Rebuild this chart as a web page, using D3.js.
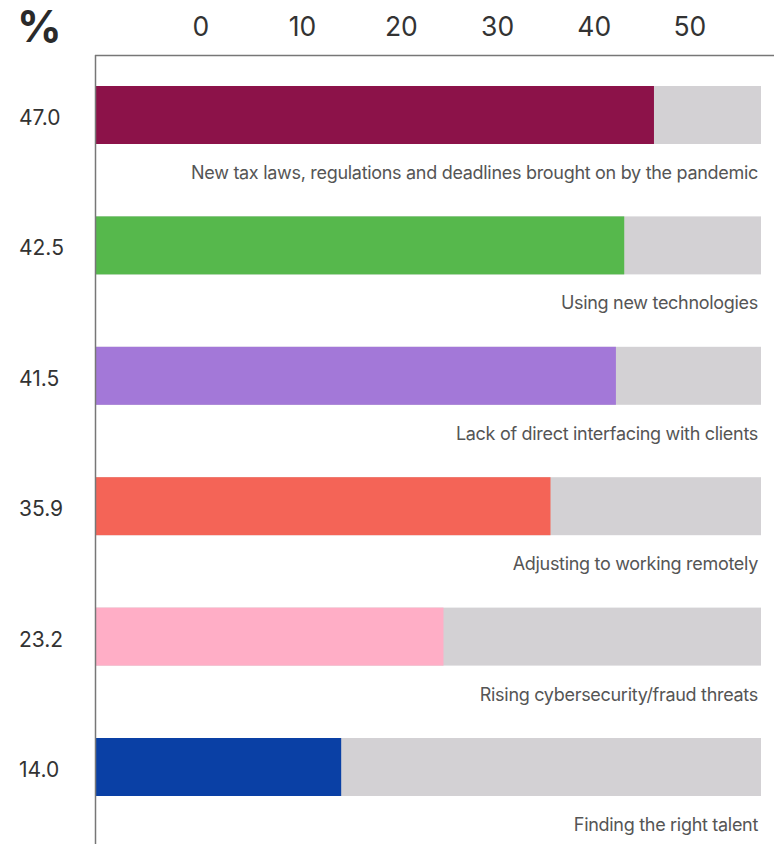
<!DOCTYPE html>
<html>
<head>
<meta charset="utf-8">
<script src="https://cdn.jsdelivr.net/npm/d3@7"></script>
<style>
  html, body { margin: 0; padding: 0; background: #fff; }
  svg { display: block; }
  text { font-family: Inter, "Noto Sans", sans-serif; }
</style>
</head>
<body>
<script>
const categories = [
  "New tax laws, regulations and deadlines brought on by the pandemic",
  "Using new technologies",
  "Lack of direct interfacing with clients",
  "Adjusting to working remotely",
  "Rising cybersecurity/fraud threats",
  "Finding the right talent"
];
const valueLabels = ["47.0", "42.5", "41.5", "35.9", "23.2", "14.0"];
const barLengths = [47.0, 44.5, 43.8, 38.3, 29.3, 20.7];
const colors = ["#8C1249", "#56B84C", "#A378D8", "#F46457", "#FFAEC6", "#0A40A5"];
const tickValues = [0, 10, 20, 30, 40, 50];

const W = 774, H = 844;
const svg = d3.select("body").append("svg").attr("width", W).attr("height", H);

const xBar = d3.scaleLinear().domain([0, 56]).range([95, 761]);
const xTick = d3.scaleLinear().domain([0, 50]).range([192, 673]);
const y = d3.scaleBand().domain(d3.range(categories.length)).range([86, 86 + 130.4 * 6]).paddingInner(0).paddingOuter(0);
const barH = 58;

// "%" label
svg.append("text").attr("x", 17).attr("y", 42).attr("font-size", 44).attr("font-weight", 700)
  .attr("fill", "#2a2a2a").text("%");

// top tick labels
const axis = d3.axisTop(xTick).tickValues(tickValues).tickSize(0).tickPadding(0);
const gAxis = svg.append("g").attr("transform", "translate(0,36)").call(axis);
gAxis.select(".domain").remove();
gAxis.selectAll("text").attr("font-size", 26.5).attr("fill", "#333").attr("text-anchor", "start")
  .attr("font-family", "Inter, sans-serif").attr("dy", 0);

// rows
const rows = svg.append("g").selectAll("g").data(categories).join("g")
  .attr("transform", (d, i) => `translate(0,${y(i)})`);

rows.append("rect").attr("x", xBar(0)).attr("y", 0)
  .attr("width", xBar(56) - xBar(0)).attr("height", barH).attr("fill", "#D3D1D4");
rows.append("rect").attr("x", xBar(0)).attr("y", 0)
  .attr("width", (d, i) => xBar(barLengths[i]) - xBar(0)).attr("height", barH)
  .attr("fill", (d, i) => colors[i]);

rows.append("text").attr("x", 19).attr("y", 39).attr("font-size", 21).attr("fill", "#333")
  .text((d, i) => valueLabels[i]);

rows.append("text").attr("x", 758).attr("y", barH + 35).attr("font-size", 18).attr("fill", "#555")
  .attr("text-anchor", "end").attr("letter-spacing", -0.3).text(d => d);

// axis lines
svg.append("line").attr("x1", 95).attr("x2", 774).attr("y1", 55.5).attr("y2", 55.5)
  .attr("stroke", "#777").attr("stroke-width", 1.5);
svg.append("line").attr("x1", 95.5).attr("x2", 95.5).attr("y1", 55).attr("y2", H)
  .attr("stroke", "#777").attr("stroke-width", 1.5);
</script>
</body>
</html>
